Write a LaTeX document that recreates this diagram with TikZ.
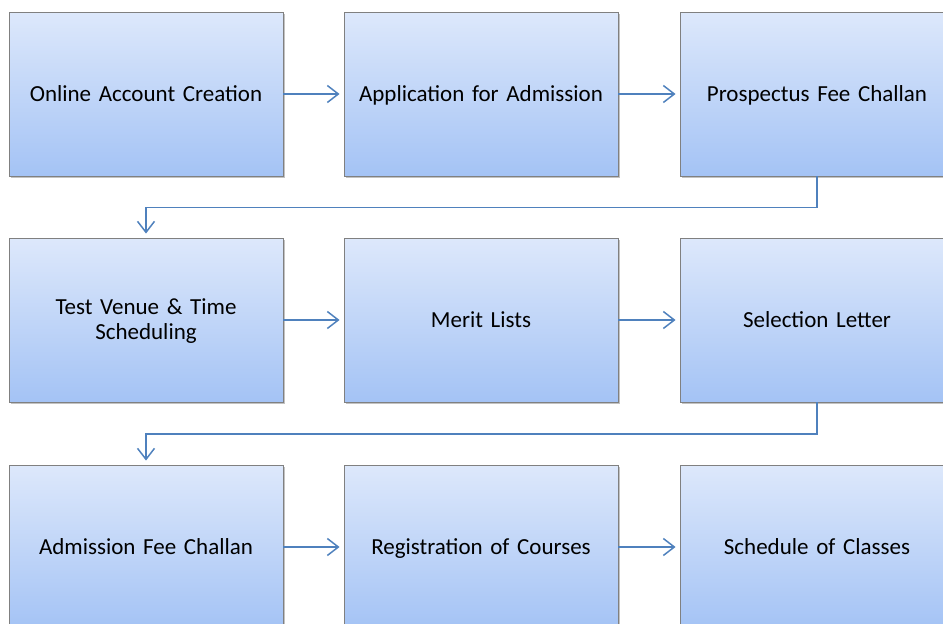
\documentclass[tikz,border=0pt]{standalone}
\usepackage{fontspec}
\setmainfont{Carlito}
\usetikzlibrary{arrows.meta,shadows,calc}
\definecolor{arrowblue}{HTML}{4F81BD}
\definecolor{boxtop}{HTML}{DDE8FB}
\definecolor{boxbot}{HTML}{A4C3F5}
\definecolor{boxline}{HTML}{808080}
\newcommand{\topstrut}{\rule{0pt}{20pt}}
\newcommand{\botstrut}{\rule[-5.2pt]{0pt}{5.2pt}}
\tikzset{
  box/.style={rectangle, draw=boxline, line width=0.9pt, top color=boxtop, bottom color=boxbot,
    minimum width=274pt, minimum height=164pt, inner sep=0pt, align=center,
    text width=260pt, font=\fontsize{23pt}{25pt}\selectfont,
    execute at begin node=\topstrut, execute at end node=\botstrut,
    drop shadow={shadow xshift=2pt, shadow yshift=-2pt, opacity=0.4, fill=black!60}},
  flow/.style={draw=arrowblue, line width=1.5pt, -{Straight Barb[length=11pt,width=17pt,line width=1.5pt]}, shorten >=4pt}
}
\begin{document}
\begin{tikzpicture}[x=1pt,y=-1pt]
\useasboundingbox (0,0) rectangle (943,624);
\node[box] (b1) at (146,94) {Online Account Creation};
\node[box] (b2) at (481,94) {Application for Admission};
\node[box] (b3) at (817,94) {Prospectus Fee Challan};
\node[box] (b4) at (146,320) {Test Venue \& Time\\Scheduling};
\node[box] (b5) at (481,320) {Merit Lists};
\node[box] (b6) at (817,320) {Selection Letter};
\node[box] (b7) at (146,547) {Admission Fee Challan};
\node[box] (b8) at (481,547) {Registration of Courses};
\node[box] (b9) at (817,547) {Schedule of Classes};
\draw[flow] (b1) -- (b2);
\draw[flow] (b2) -- (b3);
\draw[flow] (b4) -- (b5);
\draw[flow] (b5) -- (b6);
\draw[flow] (b7) -- (b8);
\draw[flow] (b8) -- (b9);
\draw[flow] (b3.south) -- ++(0,31) -| (b4.north);
\draw[flow] (b6.south) -- ++(0,31.5) -| (b7.north);
\end{tikzpicture}
\end{document}
